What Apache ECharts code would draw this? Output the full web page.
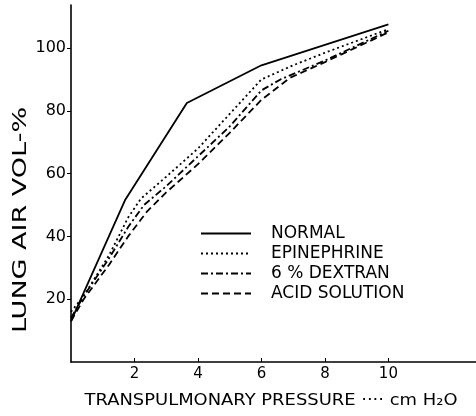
<!DOCTYPE html>
<html>
<head>
<meta charset="utf-8">
<script src="https://cdn.jsdelivr.net/npm/echarts@6/dist/echarts.min.js"></script>
<style>html,body{margin:0;padding:0;background:#fff}#c{width:476px;height:416px}</style>
</head>
<body>
<div id="c"></div>
<script>
var seriesNames = ['NORMAL', 'EPINEPHRINE', '6 % DEXTRAN', 'ACID SOLUTION'];
var normalX = [0, 1.7, 3.65, 6, 10];
var normalY = [13, 51.5, 82.5, 94.5, 107.5];
var epiX = [0, 0.4, 1.2, 1.8, 2.2, 3, 4, 5, 6, 7, 8, 10];
var epiY = [16, 21, 34, 46, 52, 59, 68, 79, 90, 94.5, 98.5, 106];
var dexX = [0, 0.4, 1.2, 1.8, 2.3, 3, 4, 5, 6, 6.6, 8, 10];
var dexY = [14, 21, 33, 43, 50, 56, 65.5, 75, 86.5, 90, 96, 105.5];
var acidX = [0, 0.4, 1.2, 1.8, 2.4, 3, 4, 5, 6, 6.9, 8, 10];
var acidY = [13, 20, 31, 40, 48, 54, 63, 73, 83.5, 90.5, 95.5, 105];
var xTicks = [2, 4, 6, 8, 10];
var yTicks = [20, 40, 60, 80, 100];
var xTitle = 'TRANSPULMONARY PRESSURE ···· cm H₂O';
var yTitle = 'LUNG AIR VOL-%';

function pairs(xs, ys) { return xs.map(function (x, i) { return [x, ys[i]]; }); }
var FONT = 'DejaVu Sans';
var dashes = ['solid', [2, 3], [7, 3, 2, 3], [7, 4]];
var dataSets = [pairs(normalX, normalY), pairs(epiX, epiY), pairs(dexX, dexY), pairs(acidX, acidY)];

var chart = echarts.init(document.getElementById('c'), null, {renderer: 'canvas'});
chart.setOption({
  animation: false,
  backgroundColor: '#fff',
  grid: {left: 71, right: 0, top: 5, bottom: 54, containLabel: false},
  xAxis: {
    type: 'value', min: 0, max: 12.76,
    axisLine: {lineStyle: {color: '#000', width: 1.6}},
    axisTick: {inside: true, length: 4, customValues: xTicks, lineStyle: {color: '#000'}},
    axisLabel: {customValues: xTicks, color: '#000', fontFamily: FONT, fontSize: 15, margin: 5},
    splitLine: {show: false}
  },
  yAxis: {
    type: 'value', min: 0, max: 113.7,
    axisLine: {show: true, lineStyle: {color: '#000', width: 1.6}},
    axisTick: {show: true, length: 4, customValues: yTicks, lineStyle: {color: '#000'}},
    axisLabel: {customValues: yTicks, color: '#000', fontFamily: FONT, fontSize: 16, margin: 5},
    splitLine: {show: false}
  },
  legend: {
    orient: 'vertical', left: 200, top: 225, padding: 0,
    itemWidth: 50, itemHeight: 14, itemGap: 3,
    itemStyle: {opacity: 0},
    data: seriesNames,
    textStyle: {color: '#000', fontFamily: FONT, fontSize: 17, lineHeight: 14, padding: [0, 0, 0, 15]}
  },
  graphic: [{
    type: 'text', x: 21, y: 220, rotation: Math.PI / 2, scaleX: 1.35,
    style: {text: yTitle, fill: '#000', font: '20px "DejaVu Sans"', align: 'center', verticalAlign: 'middle'}
  }, {
    type: 'text', x: 271, y: 401, scaleX: 1.12,
    style: {text: xTitle, fill: '#000', font: '16px "DejaVu Sans"', align: 'center', verticalAlign: 'middle'}
  }],
  series: seriesNames.map(function (n, i) {
    return {
      name: n, type: 'line', data: dataSets[i], symbol: 'none',
      lineStyle: {color: '#000', width: 1.8, type: dashes[i]},
      itemStyle: {color: '#000'}
    };
  })
});
</script>
</body>
</html>
